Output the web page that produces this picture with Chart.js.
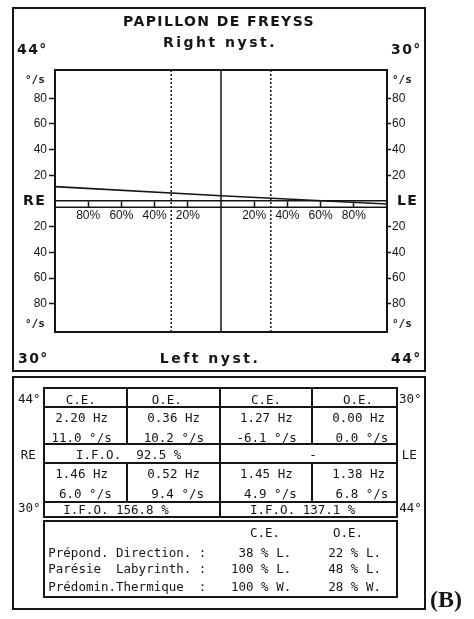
<!DOCTYPE html>
<html><head><meta charset="utf-8">
<script src="https://cdn.jsdelivr.net/npm/chart.js@4.4.1/dist/chart.umd.min.js"></script>
<style>
html,body{margin:0;padding:0;background:#fff;}
#page{position:relative;width:474px;height:619px;overflow:hidden;color:#151515;}
.t{position:absolute;white-space:pre;line-height:16px;height:16px;}
.b{font-family:"DejaVu Sans";font-weight:bold;font-size:14px;letter-spacing:1.4px;}
.n{font-family:"DejaVu Sans";font-weight:bold;font-size:14px;letter-spacing:2.5px;}
.s{font-family:"DejaVu Sans Mono";font-weight:bold;font-size:11px;}
.m{font-family:"DejaVu Sans Mono";font-size:12.5px;}
.B{font-family:"Liberation Serif";font-weight:bold;font-size:24px;line-height:28px;height:28px;}
.ln{position:absolute;background:#151515;}
canvas{position:absolute;left:0;top:0;}
</style></head>
<body><div id="page"><canvas id="c" width="474" height="619"></canvas></div>
<script>
// ---- chart data ----
const xTicks = [-80, -60, -40, -20, 20, 40, 60, 80];
const yTicks = [-80, -60, -40, -20, 20, 40, 60, 80];
const yRange = [-102, 102];
const xRange = [-100, 100];
const responseX = [-100, 0, 100];
const responseY = [11.2, 4.1, -2.3];
const dottedX = [-30, 30];
const centerX = 0;
const bandY = -4.8;

// ---- table values ----
const headers = ['C.E.', 'O.E.', 'C.E.', 'O.E.'];
const hz44_30 = ['2.20 Hz', '0.36 Hz', '1.27 Hz', '0.00 Hz'];
const vel44_30 = ['11.0 °/s', '10.2 °/s', '-6.1 °/s', '0.0 °/s'];
const hz30_44 = ['1.46 Hz', '0.52 Hz', '1.45 Hz', '1.38 Hz'];
const vel30_44 = ['6.0 °/s', '9.4 °/s', '4.9 °/s', '6.8 °/s'];
const ifoTop = ['I.F.O.  92.5 %', '-'];
const ifoBottom = ['I.F.O. 156.8 %', 'I.F.O. 137.1 %'];
const summaryLabels = ['Prépond. Direction. :', 'Parésie  Labyrinth. :', 'Prédomin.Thermique  :'];
const summaryCE = [' 38 % L.', '100 % L.', '100 % W.'];
const summaryOE = ['22 % L.', '48 % L.', '28 % W.'];

const page = document.getElementById('page');
function T(text, x, y, cls, align) {
  const d = document.createElement('div');
  d.className = 't ' + cls;
  d.textContent = text;
  const h = cls === 'B' ? 28 : 16;
  d.style.top = (y - h / 2) + 'px';
  if (align === 'c') { d.style.left = (x - 200) + 'px'; d.style.width = '400px'; d.style.textAlign = 'center'; }
  else if (align === 'r') { d.style.left = (x - 300) + 'px'; d.style.width = '300px'; d.style.textAlign = 'right'; }
  else { d.style.left = x + 'px'; }
  page.appendChild(d);
}
function HL(x1, x2, y, w) { w = w || 2; const d = document.createElement('div'); d.className = 'ln';
  d.style.left = (x1 - w / 2) + 'px'; d.style.width = (x2 - x1 + w) + 'px'; d.style.top = (y - w / 2) + 'px'; d.style.height = w + 'px'; page.appendChild(d); }
function VL(x, y1, y2, w) { w = w || 2; const d = document.createElement('div'); d.className = 'ln';
  d.style.left = (x - w / 2) + 'px'; d.style.width = w + 'px'; d.style.top = (y1 - w / 2) + 'px'; d.style.height = (y2 - y1 + w) + 'px'; page.appendChild(d); }

// outer boxes
HL(13, 425, 8); HL(13, 425, 370.7); VL(13, 8, 370.7); VL(425, 8, 370.7);
HL(13, 425, 377.3); HL(13, 425, 609); VL(13, 377.3, 609); VL(425, 377.3, 609);

// upper panel texts
T('PAPILLON DE FREYSS', 219, 20.7, 'b', 'c');
T('Right nyst.', 220, 41.7, 'n', 'c');
T('44°', 17, 49, 'b', 'l');
T('30°', 391, 49, 'b', 'l');
T('°/s', 25, 80, 's', 'l');
T('°/s', 392, 80, 's', 'l');
T('RE', 23, 200, 'b', 'l');
T('LE', 397, 200, 'b', 'l');
T('°/s', 25, 324.3, 's', 'l');
T('°/s', 392, 324.3, 's', 'l');
T('30°', 18, 358, 'b', 'l');
T('Left nyst.', 210, 358, 'n', 'c');
T('44°', 391, 358, 'b', 'l');

// table grid
const L = 44.3, R = 396.7;
[388.3, 406.7, 444, 463.3, 501.7, 517].forEach(y => HL(L, R, y));
VL(L, 388.3, 517); VL(R, 388.3, 517); VL(220, 388.3, 517);
[126.7, 312.3].forEach(x => { VL(x, 388.3, 444); VL(x, 463.3, 501.7); });
HL(L, R, 521); HL(L, R, 596.7); VL(L, 521, 596.7); VL(R, 521, 596.7);

// table texts
T('44°', 18, 399, 'm', 'l'); T('30°', 399, 399, 'm', 'l');
const hc = [80.7, 166.7, 266, 358];
headers.forEach((h, i) => T(h, hc[i], 399.5, 'm', 'c'));
const hzR = [108, 200, 292.7, 385], velR = [111.7, 204, 296.7, 388.3];
hz44_30.forEach((s, i) => T(s, hzR[i], 418.3, 'm', 'r'));
vel44_30.forEach((s, i) => T(s, velR[i], 438, 'm', 'r'));
T('RE', 20.7, 455, 'm', 'l'); T('LE', 401.7, 455, 'm', 'l');
T(ifoTop[0], 76, 455, 'm', 'l'); T(ifoTop[1], 313, 455, 'm', 'c');
hz30_44.forEach((s, i) => T(s, hzR[i], 474.3, 'm', 'r'));
vel30_44.forEach((s, i) => T(s, velR[i], 493.5, 'm', 'r'));
T('30°', 18, 508.3, 'm', 'l'); T('44°', 399.3, 508.3, 'm', 'l');
T(ifoBottom[0], 63.3, 510, 'm', 'l'); T(ifoBottom[1], 250, 510, 'm', 'l');
T('C.E.', 265, 533.3, 'm', 'c'); T('O.E.', 348, 533.3, 'm', 'c');
const sy = [552.7, 569.3, 586.7];
summaryLabels.forEach((s, i) => T(s, 48.3, sy[i], 'm', 'l'));
summaryCE.forEach((s, i) => T(s, 231, sy[i], 'm', 'l'));
summaryOE.forEach((s, i) => T(s, 328.3, sy[i], 'm', 'l'));
T('(B)', 430, 599, 'B', 'l');

// ---- chart ----
Chart.defaults.font.family = 'Liberation Sans';
Chart.defaults.font.size = 12;
Chart.defaults.color = '#151515';
const ink = '#151515';
const pts = (xs, ys) => xs.map((x, i) => ({ x: x, y: ys[i] }));
const lineDs = (data, w, dash) => ({ data: data, borderColor: ink, borderWidth: w, borderDash: dash || [], pointRadius: 0, fill: false, tension: 0 });

const frame = {
  id: 'frame',
  afterDraw(chart) {
    const a = chart.chartArea, ctx = chart.ctx;
    ctx.save(); ctx.strokeStyle = ink; ctx.lineWidth = 2;
    ctx.strokeRect(a.left, a.top, a.right - a.left, a.bottom - a.top);
    ctx.restore();
  }
};

new Chart(document.getElementById('c'), {
  type: 'line',
  data: {
    datasets: [
      lineDs(pts(responseX, responseY), 1.6),
      lineDs(pts([centerX, centerX], yRange), 1.5),
      lineDs(pts([dottedX[0], dottedX[0]], yRange), 1.5, [2, 2]),
      lineDs(pts([dottedX[1], dottedX[1]], yRange), 1.5, [2, 2]),
      lineDs(pts(xRange, [bandY, bandY]), 1.5)
    ]
  },
  options: {
    responsive: false, animation: false, events: [],
    layout: { padding: { top: 70, bottom: 287, left: 0, right: 0 } },
    plugins: { legend: { display: false }, tooltip: { enabled: false } },
    scales: {
      x: {
        type: 'linear', min: xRange[0], max: xRange[1], position: { y: 0 },
        afterBuildTicks: s => { s.ticks = xTicks.map(v => ({ value: v })); },
        ticks: { callback: v => Math.abs(v) + '%', padding: 1, maxRotation: 0, autoSkip: false },
        grid: { drawOnChartArea: false, tickLength: 6, tickColor: ink, tickWidth: 1.5 },
        border: { display: true, color: ink, width: 1.5 }
      },
      y: {
        type: 'linear', min: yRange[0], max: yRange[1], position: 'left',
        afterBuildTicks: s => { s.ticks = yTicks.map(v => ({ value: v })); },
        afterFit: s => { s.width = 55; },
        ticks: { callback: v => Math.abs(v), padding: 2, autoSkip: false },
        grid: { drawOnChartArea: false, tickLength: 6, tickColor: ink, tickWidth: 1.5 },
        border: { display: false }
      },
      y2: {
        type: 'linear', min: yRange[0], max: yRange[1], position: 'right',
        afterBuildTicks: s => { s.ticks = yTicks.map(v => ({ value: v })); },
        afterFit: s => { s.width = 87; },
        ticks: { callback: v => Math.abs(v), padding: 1, autoSkip: false },
        grid: { drawOnChartArea: false, tickLength: 4, tickColor: ink, tickWidth: 1.5 },
        border: { display: false }
      }
    }
  },
  plugins: [frame]
});
</script></body></html>
